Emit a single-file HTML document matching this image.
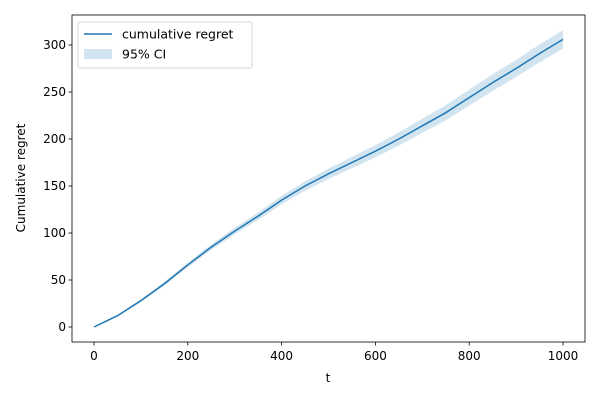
<!DOCTYPE html>
<html><head><meta charset="utf-8"><style>
body{margin:0;background:#fff;}
svg{display:block;font-family:"DejaVu Sans","Liberation Sans",sans-serif;}
</style></head><body>
<svg id="chart" width="600" height="400"></svg>
<script>
const ts=[0,50,100,150,200,250,300,350,400,450,500,550,600,650,700,750,800,850,900,950,1000];
const regret=[0,12,28,46,66,85,102,118,135,150,163,175,187,200,214,228,244,260,275,291,306];
const ciHalf=[0,1,1.5,2,2.5,3,3.5,4,4.5,5,5.5,6,6.5,7,7.5,8,8.5,9,9,9.5,10];
const xTicks=[0,200,400,600,800,1000];
const yTicks=[0,50,100,150,200,250,300];
const L=72,R=585,T=15,B=342;
const X=v=>94+(v/1000)*(563-94);
const Y=v=>327-v*(282/300);
const NS="http://www.w3.org/2000/svg";
const svg=document.getElementById('chart');
function mk(t,a,p){const e=document.createElementNS(NS,t);for(const k in a)e.setAttribute(k,a[k]);(p||svg).appendChild(e);return e;}
let d=ts.map((t,i)=>(i?'L':'M')+X(t)+','+Y(regret[i]+ciHalf[i])).join('');
for(let i=ts.length-1;i>=0;i--)d+='L'+X(ts[i])+','+Y(regret[i]-ciHalf[i]);
const band=mk('path',{d:d+'Z',fill:'#1f77b4','fill-opacity':0.2,stroke:'none'});


const line=mk('path',{d:ts.map((t,i)=>(i?'L':'M')+X(t)+','+Y(regret[i])).join(''),fill:'none',stroke:'#1f77b4','stroke-width':1.5});


const frame=mk('rect',{x:L,y:T,width:R-L,height:B-T,fill:'none',stroke:'#000','stroke-width':0.8});


xTicks.forEach(v=>{
  mk('line',{x1:X(v),x2:X(v),y1:B,y2:B+3.5,stroke:'#000','stroke-width':0.8});
  const t=mk('text',{x:X(v),y:B+18,'text-anchor':'middle','font-size':12});t.textContent=v;
  
  
});
yTicks.forEach(v=>{
  mk('line',{x1:L-3.5,x2:L,y1:Y(v),y2:Y(v),stroke:'#000','stroke-width':0.8});
  const t=mk('text',{x:L-6,y:Y(v)+4,'text-anchor':'end','font-size':12});t.textContent=v;
  
  
});
const xt=mk('text',{x:328,y:382,'text-anchor':'middle','font-size':12});xt.textContent='t';


const yt=mk('text',{x:25,y:178,'text-anchor':'middle','font-size':12,transform:'rotate(-90 25 178)'});yt.textContent='Cumulative regret';


const lg=mk('g',{});


mk('rect',{x:78,y:22,width:174,height:46,rx:2,fill:'#fff',stroke:'#ccc','stroke-width':0.8},lg);
mk('line',{x1:84,x2:112,y1:34,y2:34,stroke:'#1f77b4','stroke-width':1.5},lg);
const l1=mk('text',{x:122,y:38.5,'font-size':12.5},lg);l1.textContent='cumulative regret';


mk('rect',{x:84,y:49,width:28,height:10,fill:'#1f77b4','fill-opacity':0.2},lg);
const l2=mk('text',{x:122,y:58.5,'font-size':12.5},lg);l2.textContent='95% CI';


</script>
</body></html>
